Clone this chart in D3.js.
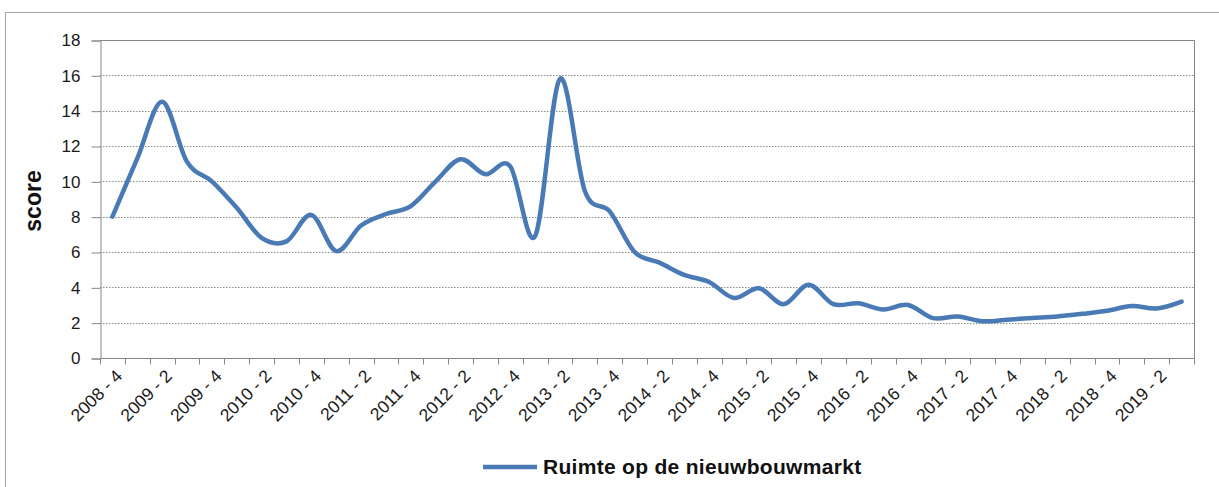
<!DOCTYPE html>
<html>
<head>
<meta charset="utf-8">
<script src="https://cdn.jsdelivr.net/npm/d3@7"></script>
<style>
  html, body { margin: 0; padding: 0; background: #fff; }
  svg { display: block; font-family: "Liberation Sans", Arial, sans-serif; }
</style>
</head>
<body>
<svg id="chart" width="1219" height="487"></svg>
<script>
// Quarterly periods, 2008 Q4 through 2019 Q3
const quarters = [
  "2008 - 4",
  "2009 - 1", "2009 - 2", "2009 - 3", "2009 - 4",
  "2010 - 1", "2010 - 2", "2010 - 3", "2010 - 4",
  "2011 - 1", "2011 - 2", "2011 - 3", "2011 - 4",
  "2012 - 1", "2012 - 2", "2012 - 3", "2012 - 4",
  "2013 - 1", "2013 - 2", "2013 - 3", "2013 - 4",
  "2014 - 1", "2014 - 2", "2014 - 3", "2014 - 4",
  "2015 - 1", "2015 - 2", "2015 - 3", "2015 - 4",
  "2016 - 1", "2016 - 2", "2016 - 3", "2016 - 4",
  "2017 - 1", "2017 - 2", "2017 - 3", "2017 - 4",
  "2018 - 1", "2018 - 2", "2018 - 3", "2018 - 4",
  "2019 - 1", "2019 - 2", "2019 - 3"
];

// Score: room on the new-build housing market
const ruimte = [
  8.0,
  11.3, 14.5, 11.1, 10.0,
  8.5, 6.8, 6.6, 8.1,
  6.05, 7.5, 8.15, 8.6,
  10.0, 11.25, 10.4, 10.85,
  6.9, 15.8, 9.45, 8.3,
  6.0, 5.4, 4.7, 4.3,
  3.4, 3.95, 3.05, 4.15,
  3.05, 3.1, 2.75, 3.0,
  2.26, 2.35, 2.08, 2.17,
  2.26, 2.35, 2.5, 2.67,
  2.94, 2.8, 3.19
];

// Every other quarter carries a label on the axis
const xTickLabels = quarters.filter((d, i) => i % 2 === 0);
const yTicks = [0, 2, 4, 6, 8, 10, 12, 14, 16, 18];
const seriesName = "Ruimte op de nieuwbouwmarkt";
const yTitle = "score";

const svg = d3.select("#chart");
const W = 1219, H = 487;
const plot = { left: 100, right: 1194, top: 40, bottom: 358 };
const axisGrey = "#868686";
const lineBlue = "#4a7ab5";

// Outer chart frame
svg.append("rect")
  .attr("x", 5.5).attr("y", 12.5)
  .attr("width", W + 10).attr("height", H + 10)
  .attr("fill", "none").attr("stroke", "#a6a6a6").attr("stroke-width", 1);

const x = d3.scaleBand().domain(quarters).range([plot.left, plot.right]).padding(0);
const y = d3.scaleLinear().domain([0, 18]).range([plot.bottom, plot.top]);

// Dotted horizontal gridlines
svg.append("g")
  .selectAll("line")
  .data(yTicks.filter(v => v > 0 && v < 18))
  .join("line")
  .attr("x1", plot.left).attr("x2", plot.right)
  .attr("y1", d => Math.round(y(d)) + 0.5).attr("y2", d => Math.round(y(d)) + 0.5)
  .attr("stroke", "#8a8a8a").attr("stroke-width", 1)
  .attr("stroke-dasharray", "1.5,1.5");

// Plot frame (top and right)
svg.append("path")
  .attr("d", `M${plot.left},${plot.top + 0.5}H${plot.right + 0.5}V${plot.bottom}`)
  .attr("fill", "none").attr("stroke", axisGrey).attr("stroke-width", 1);

// Y axis
const yAxis = d3.axisLeft(y).tickValues(yTicks).tickSize(9).tickPadding(11).tickFormat(d3.format("d"));
const gy = svg.append("g").attr("transform", `translate(${plot.left + 0.5},0.5)`).call(yAxis);
gy.select(".domain").attr("stroke", axisGrey);
gy.selectAll(".tick line").attr("stroke", axisGrey);
gy.selectAll(".tick text")
  .attr("font-size", 17).attr("fill", "#1a1a1a")
  .attr("font-family", "'Liberation Sans', Arial, sans-serif");

// X axis: tick marks on the category boundaries
const gx = svg.append("g").attr("transform", `translate(0,${plot.bottom + 0.5})`);
gx.append("line")
  .attr("x1", plot.left).attr("x2", plot.right + 0.5)
  .attr("stroke", axisGrey);
const boundaries = quarters.map(q => x(q)).concat([x.range()[1]]);
gx.selectAll("line.tick")
  .data(boundaries)
  .join("line")
  .attr("class", "tick")
  .attr("x1", d => Math.round(d) + 0.5).attr("x2", d => Math.round(d) + 0.5)
  .attr("y1", 0).attr("y2", 6)
  .attr("stroke", axisGrey);

// Rotated category labels
svg.append("g")
  .selectAll("text")
  .data(xTickLabels)
  .join("text")
  .attr("transform", d => `translate(${x(d) + x.bandwidth() / 2 + 11},${plot.bottom + 19}) rotate(-45)`)
  .attr("text-anchor", "end")
  .attr("font-size", 17.5)
  .attr("fill", "#1a1a1a")
  .text(d => d);

// Y axis title
svg.append("text")
  .attr("transform", `translate(41,${(plot.top + plot.bottom) / 2 + 2}) rotate(-90)`)
  .attr("text-anchor", "middle")
  .attr("font-size", 23).attr("font-weight", "bold")
  .attr("fill", "#111")
  .text(yTitle);

// Series line, smoothed
const line = d3.line()
  .x((d, i) => x(quarters[i]) + x.bandwidth() / 2)
  .y(d => y(d))
  .curve(d3.curveCardinal.tension(0));

svg.append("path")
  .datum(ruimte)
  .attr("d", line)
  .attr("fill", "none")
  .attr("stroke", lineBlue)
  .attr("stroke-width", 4.5)
  .attr("stroke-linejoin", "round")
  .attr("stroke-linecap", "round");

// Legend
const lg = svg.append("g").attr("transform", "translate(483,467)");
lg.append("line")
  .attr("x1", 0).attr("x2", 54).attr("y1", 0).attr("y2", 0)
  .attr("stroke", lineBlue).attr("stroke-width", 4.5);
lg.append("text")
  .attr("x", 60).attr("y", 7)
  .attr("font-size", 21).attr("font-weight", "bold")
  .attr("letter-spacing", 0.3)
  .attr("fill", "#111")
  .text(seriesName);
</script>
</body>
</html>
